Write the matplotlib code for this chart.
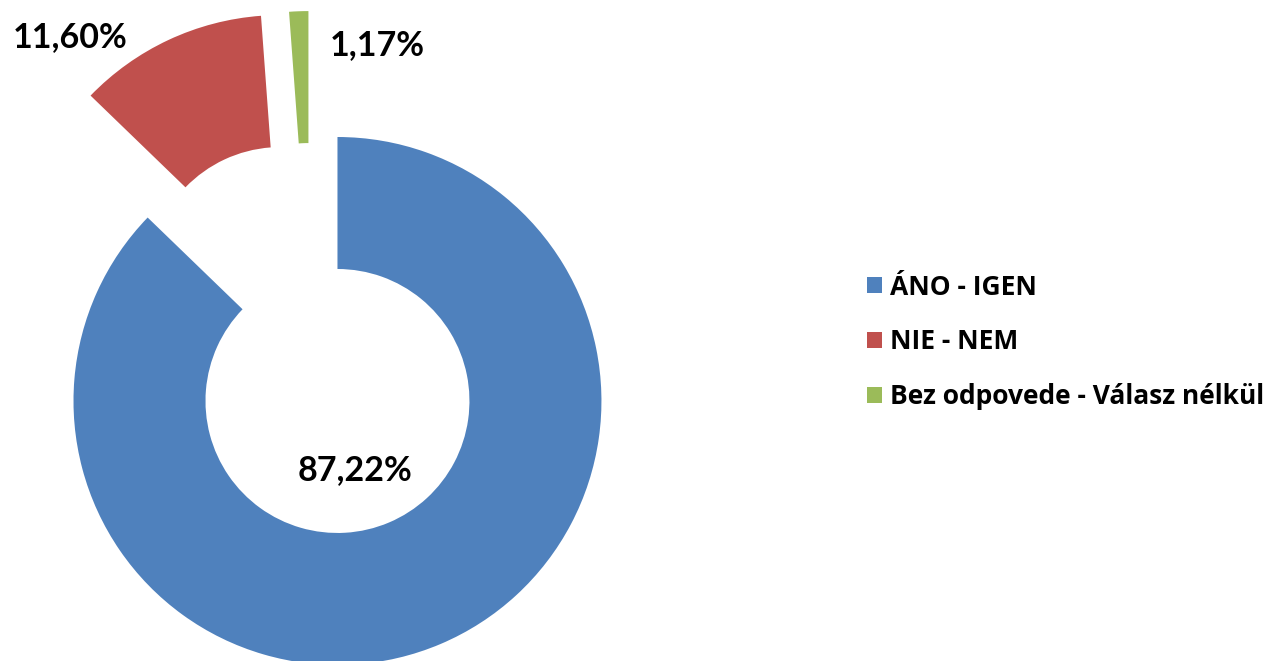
import numpy as np
import matplotlib.pyplot as plt

# data
labels = ["ÁNO - IGEN", "NIE - NEM", "Bez odpovede - Válasz nélkül"]
values = [87.22, 11.60, 1.17]
value_labels = ["87,22%", "11,60%", "1,17%"]
colors = ["#4F81BD", "#C0504D", "#9BBB59"]

plt.rcParams["font.family"] = ["Lato", "DejaVu Sans"]
plt.rcParams["font.weight"] = "bold"

fig = plt.figure(figsize=(12.78, 6.61), dpi=100)
ax = fig.add_axes([0, 0, 1, 1])

wedges, _ = ax.pie(values, colors=colors, startangle=90, counterclock=False,
                   radius=1.0, explode=[0, 0.51, 0.49],
                   wedgeprops=dict(width=0.5, linewidth=0))
# Excel pushed the thin green slice a bit more to the left
wedges[2].set_center((-0.11, 0.477))

ax.set_aspect("equal")
ax.set_xlim(-1.278, 3.5625)
ax.set_ylim(-0.985, 1.519)
ax.axis("off")

ax.text(0.066, -0.26, value_labels[0], fontsize=24.5, fontweight="bold",
        ha="center", va="center")
ax.text(-1.013, 1.379, value_labels[1], fontsize=24.5, fontweight="bold",
        ha="center", va="center")
ax.text(0.15, 1.348, value_labels[2], fontsize=24.5, fontweight="bold",
        ha="center", va="center")

fig.legend(wedges, labels, loc="center left", bbox_to_anchor=(0.66, 0.483),
           frameon=False, handlelength=0.55, handleheight=0.55,
           handletextpad=0.32, labelspacing=1.05,
           prop={"family": "Open Sans", "weight": "bold", "size": 19})

fig.savefig("out.png", dpi=100)
